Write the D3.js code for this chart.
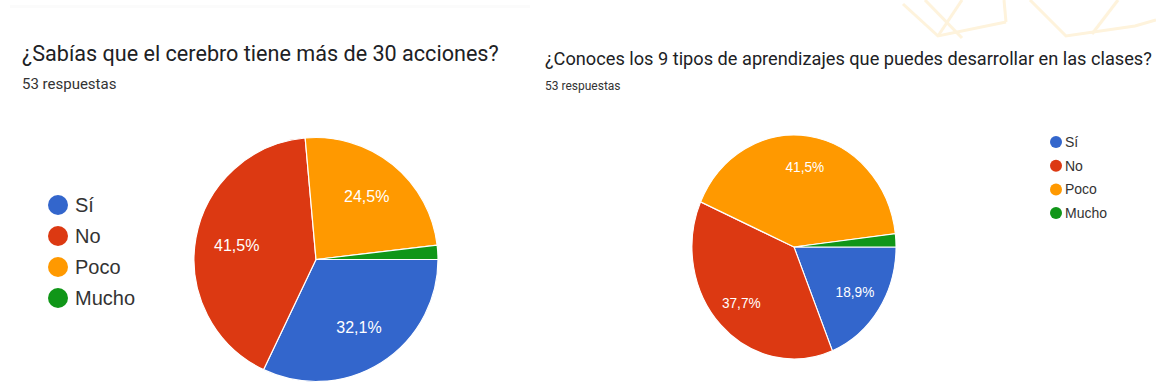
<!DOCTYPE html>
<html>
<head>
<meta charset="utf-8">
<script src="https://cdn.jsdelivr.net/npm/d3@7"></script>
<style>
  html, body { margin: 0; padding: 0; background: #ffffff; }
  svg { display: block; }
</style>
</head>
<body>
<svg id="chart" width="1156" height="387"></svg>
<script>
// ---- data ----
const categories = ["Sí", "No", "Poco", "Mucho"];
const colors = ["#3366cc", "#dc3912", "#ff9900", "#109618"];
const title1 = "¿Sabías que el cerebro tiene más de 30 acciones?";
const subtitle1 = "53 respuestas";
const values1 = [17, 22, 13, 1];
const title2 = "¿Conoces los 9 tipos de aprendizajes que puedes desarrollar en las clases?";
const subtitle2 = "53 respuestas";
const values2 = [10, 20, 22, 1];

const svg = d3.select("#chart");
const color = d3.scaleOrdinal().domain(categories).range(colors);
const fmt = v => d3.format(".1f")(v).replace(".", ",") + "%";

// faint decorative watermark lines (top right)
const wm = svg.append("g").attr("fill", "none").attr("stroke", "#fef3dc").attr("stroke-width", 3);
[
  [[903, 4], [938, 36], [1006, 22]],
  [[925, 0], [962, 38]],
  [[962, 0], [938, 36]],
  [[1004, 0], [1006, 22]],
  [[1030, 0], [1066, 36], [1135, 26], [1156, 20]],
  [[1118, 0], [1092, 34]]
].forEach(pts => wm.append("path").attr("d", d3.line()(pts)));

// faint top smear
svg.append("rect").attr("x", 10).attr("y", 5).attr("width", 520).attr("height", 3).attr("fill", "#fbfbfb");

const pie = d3.pie().sort(null).value(d => d.v)
  .startAngle(Math.PI / 2).endAngle(Math.PI / 2 + 2 * Math.PI);

function drawPie(g, values, r, labelFrac, labelSize) {
  const data = pie(categories.map((c, i) => ({ c, v: values[i] })));
  const total = d3.sum(values);
  const arc = d3.arc().innerRadius(0).outerRadius(r);
  g.selectAll("path.slice").data(data).join("path")
    .attr("class", "slice")
    .attr("d", arc)
    .attr("fill", d => color(d.data.c))
    .attr("stroke", "#ffffff").attr("stroke-width", 1.2);
  g.selectAll("text.lbl").data(data.filter(d => d.data.v / total >= 0.05)).join("text")
    .attr("class", "lbl")
    .attr("transform", d => {
      const a = (d.startAngle + d.endAngle) / 2;
      const rr = r * labelFrac;
      return `translate(${Math.sin(a) * rr},${-Math.cos(a) * rr})`;
    })
    .attr("text-anchor", "middle")
    .attr("dominant-baseline", "central")
    .attr("fill", "#ffffff")
    .attr("font-family", "Liberation Sans, Arial, sans-serif")
    .attr("font-size", labelSize)
    .text(d => fmt(d.data.v / total * 100));
}

// ---- left chart ----
svg.append("text").attr("x", 22).attr("y", 61)
  .attr("font-family", "Roboto, sans-serif").attr("font-size", 21.6).attr("fill", "#202124")
  .text(title1);
svg.append("text").attr("x", 22).attr("y", 89)
  .attr("font-family", "Roboto, sans-serif").attr("font-size", 15).attr("fill", "#333333")
  .text(subtitle1);

const g1 = svg.append("g").attr("transform", "translate(316,259.5)");
drawPie(g1, values1, 122, 0.66, 16);

const leg1 = svg.append("g").selectAll("g").data(categories).join("g")
  .attr("transform", (d, i) => `translate(58,${205 + i * 31})`);
leg1.append("circle").attr("r", 10).attr("fill", d => color(d));
leg1.append("text").attr("x", 17).attr("dominant-baseline", "central")
  .attr("font-family", "Liberation Sans, Arial, sans-serif").attr("font-size", 20).attr("fill", "#333333")
  .text(d => d);

// ---- right chart ----
svg.append("text").attr("x", 545).attr("y", 65)
  .attr("font-family", "Roboto, sans-serif").attr("font-size", 18.2).attr("fill", "#202124")
  .text(title2);
svg.append("text").attr("x", 545).attr("y", 90)
  .attr("font-family", "Roboto, sans-serif").attr("font-size", 12).attr("fill", "#333333")
  .text(subtitle2);

const g2 = svg.append("g").attr("transform", "translate(794,247) scale(0.911,1)");
drawPie(g2, values2, 112, 0.72, 15);

const leg2 = svg.append("g").selectAll("g").data(categories).join("g")
  .attr("transform", (d, i) => `translate(1056,${142 + i * 23.7})`);
leg2.append("circle").attr("r", 6).attr("fill", d => color(d));
leg2.append("text").attr("x", 9).attr("dominant-baseline", "central")
  .attr("font-family", "Liberation Sans, Arial, sans-serif").attr("font-size", 14).attr("fill", "#333333")
  .text(d => d);
</script>
</body>
</html>
